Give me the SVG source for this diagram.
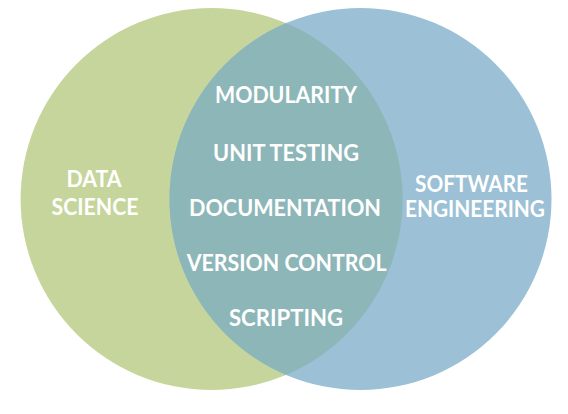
<svg xmlns="http://www.w3.org/2000/svg" width="568" height="414" viewBox="0 0 568 414">
  <style>
    .lbl { font-family: "Lato", "Open Sans", "Liberation Sans", sans-serif; font-weight: 700; font-size: 22px; fill: #ffffff; text-anchor: middle; }
  </style>
  <defs>
    <clipPath id="clipLeft">
      <circle cx="211.6" cy="199" r="191"/>
    </clipPath>
  </defs>
  <rect width="568" height="414" fill="#ffffff"/>
  <!-- Sets -->
  <g id="data-science">
    <circle cx="211.6" cy="199" r="191" fill="#c6d59b"/>
  </g>
  <g id="software-engineering">
    <circle cx="360.5" cy="199" r="191" fill="#9cc0d5"/>
  </g>
  <g id="overlap">
    <circle cx="360.5" cy="199" r="191" fill="#8db6b8" clip-path="url(#clipLeft)"/>
  </g>
  <!-- Set labels -->
  <g id="label-data-science">
    <text class="lbl" x="94" y="187.3" textLength="55" lengthAdjust="spacingAndGlyphs">DATA</text>
    <text class="lbl" x="95" y="215" textLength="87" lengthAdjust="spacingAndGlyphs">SCIENCE</text>
  </g>
  <g id="label-software-engineering">
    <text class="lbl" x="471.5" y="191.7" textLength="113" lengthAdjust="spacingAndGlyphs">SOFTWARE</text>
    <text class="lbl" x="475" y="217.3" textLength="140" lengthAdjust="spacingAndGlyphs">ENGINEERING</text>
  </g>
  <!-- Shared practices -->
  <g id="shared">
    <text class="lbl" x="286" y="103.3" textLength="142" lengthAdjust="spacingAndGlyphs">MODULARITY</text>
    <text class="lbl" x="286" y="161" textLength="146" lengthAdjust="spacingAndGlyphs">UNIT TESTING</text>
    <text class="lbl" x="285" y="216" textLength="192" lengthAdjust="spacingAndGlyphs">DOCUMENTATION</text>
    <text class="lbl" x="286.7" y="271" textLength="200" lengthAdjust="spacingAndGlyphs">VERSION CONTROL</text>
    <text class="lbl" x="286" y="326" textLength="114" lengthAdjust="spacingAndGlyphs">SCRIPTING</text>
  </g>
</svg>
